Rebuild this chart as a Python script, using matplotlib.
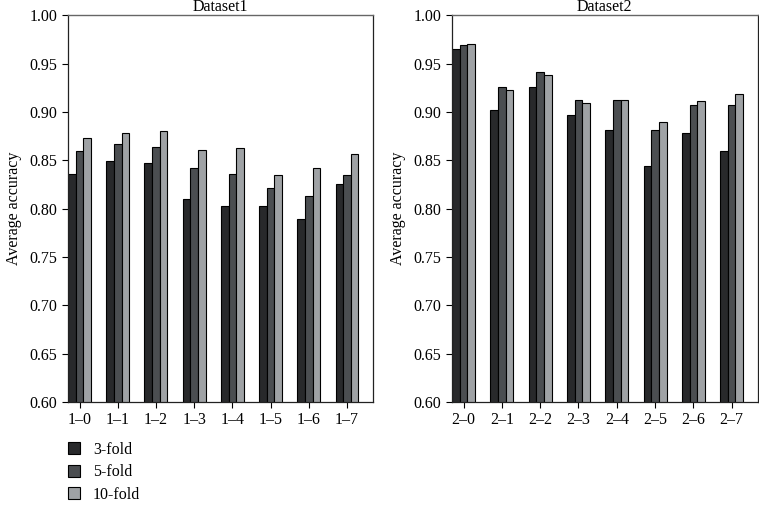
#!/usr/bin/env python3
"""Average accuracy of 3/5/10-fold cross validation on two datasets."""

import numpy as np
import matplotlib
matplotlib.use('Agg')
import matplotlib.pyplot as plt
from matplotlib.patches import Patch
from matplotlib.ticker import FormatStrFormatter

# Data
folds = ['3-fold', '5-fold', '10-fold']
labels1 = ['1\u20130', '1\u20131', '1\u20132', '1\u20133', '1\u20134', '1\u20135', '1\u20136', '1\u20137']
labels2 = ['2\u20130', '2\u20131', '2\u20132', '2\u20133', '2\u20134', '2\u20135', '2\u20136', '2\u20137']

d1_3fold = [0.836, 0.849, 0.847, 0.810, 0.803, 0.803, 0.789, 0.825]
d1_5fold = [0.860, 0.867, 0.864, 0.842, 0.836, 0.821, 0.813, 0.835]
d1_10fold = [0.873, 0.878, 0.880, 0.861, 0.863, 0.835, 0.842, 0.856]

d2_3fold = [0.965, 0.902, 0.926, 0.897, 0.881, 0.844, 0.878, 0.860]
d2_5fold = [0.969, 0.926, 0.941, 0.912, 0.912, 0.881, 0.907, 0.907]
d2_10fold = [0.970, 0.923, 0.938, 0.909, 0.912, 0.889, 0.911, 0.918]

colors = ['#28292b', '#4b4e51', '#9fa2a5']

plt.rcParams['font.family'] = ['Liberation Serif', 'DejaVu Serif']
FS = 11.5


def draw_panel(ax, labels, series, title):
    x = np.arange(len(labels))
    w = 0.2
    for i, vals in enumerate(series):
        ax.bar(x + (i - 1) * w, vals, width=w, color=colors[i],
               edgecolor='black', linewidth=0.8, zorder=2)
    ax.set_xlim(-0.31, len(labels) - 1 + 0.68)
    ax.set_ylim(0.60, 1.00)
    ax.set_yticks(np.arange(0.60, 1.001, 0.05))
    ax.yaxis.set_major_formatter(FormatStrFormatter('%.2f'))
    ax.set_xticks(x)
    ax.set_xticklabels(labels)
    ax.tick_params(axis='both', labelsize=FS, length=4, width=0.8)
    ax.set_ylabel('Average accuracy', fontsize=FS, labelpad=5)
    ax.set_title(title, fontsize=FS, pad=1.5)
    for s in ['left', 'bottom', 'right']:
        ax.spines[s].set_linewidth(0.9)
        ax.spines[s].set_color('#222222')
    ax.spines['top'].set_color('#666666')
    ax.spines['top'].set_linewidth(1.0)


fig = plt.figure(figsize=(7.59, 5.05), dpi=100)
ax1 = fig.add_axes([0.0892, 0.204, 0.4022, 0.766])
ax2 = fig.add_axes([0.5951, 0.204, 0.4032, 0.766])

draw_panel(ax1, labels1, [d1_3fold, d1_5fold, d1_10fold], 'Dataset1')
draw_panel(ax2, labels2, [d2_3fold, d2_5fold, d2_10fold], 'Dataset2')

handles = [Patch(facecolor=c, edgecolor='black', linewidth=0.8) for c in colors]
fig.legend(handles, folds, loc='upper left', bbox_to_anchor=(0.089, 0.125),
           frameon=False, fontsize=FS, borderpad=0, borderaxespad=0,
           handlelength=0.8, handleheight=0.8, handletextpad=0.8,
           labelspacing=0.4)

fig.savefig('out.png', dpi=100, facecolor='white')
plt.close(fig)
